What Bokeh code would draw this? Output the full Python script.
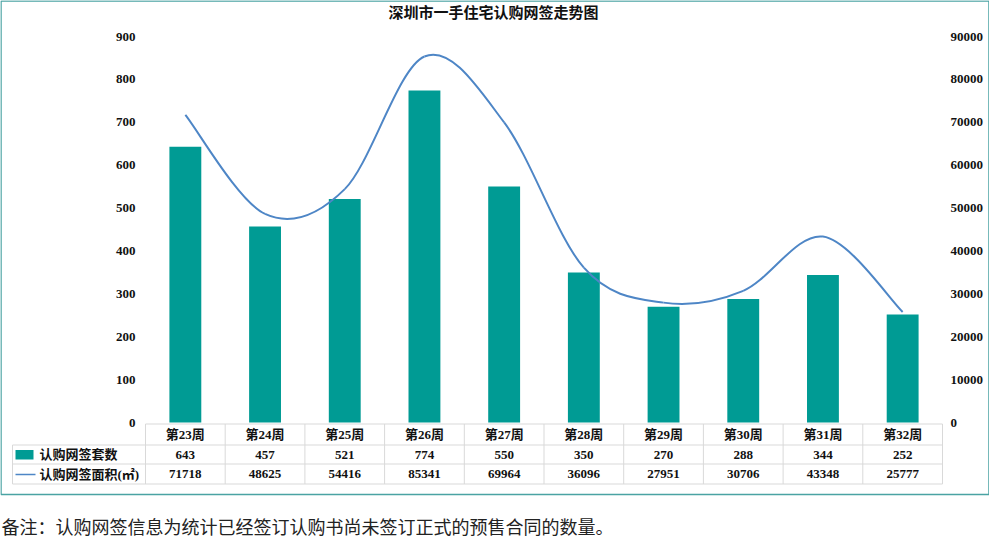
from bokeh.plotting import figure
from bokeh.models import Range1d
from bokeh.core.properties import value
from bokeh.embed import file_html
from bokeh.resources import INLINE

# ---------------- data ----------------
weeks = ["第23周", "第24周", "第25周", "第26周", "第27周", "第28周", "第29周", "第30周", "第31周", "第32周"]
counts = [643, 457, 521, 774, 550, 350, 270, 288, 344, 252]
areas = [71718, 48625, 54416, 85341, 69964, 36096, 27951, 30706, 43348, 25777]
left_ticks = [0, 100, 200, 300, 400, 500, 600, 700, 800, 900]
right_ticks = [0, 10000, 20000, 30000, 40000, 50000, 60000, 70000, 80000, 90000]
title_text = "深圳市一手住宅认购网签走势图"
series_names = ["认购网签套数", "认购网签面积(㎡)"]
note_text = "备注：认购网签信息为统计已经签订认购书尚未签订正式的预售合同的数量。"

# ---------------- layout ----------------
W, H = 989, 543
OX, OY = 8, 8            # page offset of the figure
CAT_LEFT = 153           # page x of first category's left edge
CAT_W = 79.7             # pixels per category
Y0 = 430                 # page y of value 0
K = (430 - 44) / 900.0   # pixels per count unit

x_start = (OX - CAT_LEFT) / CAT_W
x_end = x_start + W / CAT_W
y_end = (Y0 - OY) / K
y_start = (Y0 - (OY + H)) / K

def px(x):
    return (x - CAT_LEFT) / CAT_W

def py(y):
    return (Y0 - y) / K

BAR = "#009B94"
LINE = "#4E86C6"
BORDER = "#4AA3A3"
GRID = "#D9D9D9"
TXT = "#111111"
SERIF = "Liberation Serif, Noto Sans CJK SC"
CJK = "Noto Sans CJK SC"

p = figure(width=W, height=H, output_backend="svg", toolbar_location=None,
           x_range=Range1d(x_start, x_end), y_range=Range1d(y_start, y_end),
           min_border=0, outline_line_color=None, tools="")
p.extra_y_ranges = {"area": Range1d(y_start * 100, y_end * 100)}
p.axis.visible = False
p.grid.visible = False
p.background_fill_color = "white"
p.border_fill_color = "white"

n = len(weeks)
xc = [i + 0.5 for i in range(n)]

# border frame
p.quad(left=[px(8.5)], right=[px(996.5)], top=[py(8.5)], bottom=[py(502)],
       fill_color=None, line_color=BORDER, line_width=1.5)

# title
p.text(x=[px(501)], y=[py(20)], text=[title_text], text_align="center", text_baseline="middle",
       text_font=value(SERIF), text_font_size="15px", text_font_style="bold", text_color=TXT)

# left tick labels
p.text(x=[px(143)] * len(left_ticks), y=left_ticks, text=[str(t) for t in left_ticks],
       text_align="right", text_baseline="middle", text_font=value(SERIF),
       text_font_size="13px", text_font_style="bold", text_color=TXT)

# right tick labels
p.text(x=[px(958)] * len(right_ticks), y=right_ticks, text=[str(t) for t in right_ticks],
       y_range_name="area", text_align="left", text_baseline="middle", text_font=value(SERIF),
       text_font_size="13px", text_font_style="bold", text_color=TXT)

# bars
p.vbar(x=xc, width=0.4, top=counts, bottom=0, fill_color=BAR, line_color=None)

# smooth line (Catmull-Rom -> cubic bezier)
P = list(zip(xc, areas))
x0s, y0s, x1s, y1s, cx0, cy0, cx1, cy1 = [], [], [], [], [], [], [], []
for i in range(n - 1):
    pm = P[i - 1] if i > 0 else P[i]
    p0 = P[i]
    p1 = P[i + 1]
    p2 = P[i + 2] if i + 2 < n else P[i + 1]
    x0s.append(p0[0]); y0s.append(p0[1])
    x1s.append(p1[0]); y1s.append(p1[1])
    cx0.append(p0[0] + (p1[0] - pm[0]) / 6.0); cy0.append(p0[1] + (p1[1] - pm[1]) / 6.0)
    cx1.append(p1[0] - (p2[0] - p0[0]) / 6.0); cy1.append(p1[1] - (p2[1] - p0[1]) / 6.0)
p.bezier(x0=x0s, y0=y0s, x1=x1s, y1=y1s, cx0=cx0, cy0=cy0, cx1=cx1, cy1=cy1,
         y_range_name="area", line_color=LINE, line_width=2)

# data table grid
row_lines = [431.5, 452.5, 471.5, 491.5]
hx0 = [px(CAT_LEFT)] + [px(20)] * 3
hx1 = [px(950)] * 4
p.segment(x0=hx0, y0=[py(y) for y in row_lines], x1=hx1, y1=[py(y) for y in row_lines],
          line_color=GRID, line_width=1)
vx = [px(20)] + [float(i) for i in range(n + 1)]
vy0 = [py(452.5)] + [py(431.5)] * (n + 1)
vy1 = [py(491.5)] * (n + 2)
p.segment(x0=vx, y0=vy0, x1=vx, y1=vy1, line_color=GRID, line_width=1)

# table texts
p.text(x=xc, y=[py(442)] * n, text=weeks, text_align="center", text_baseline="middle",
       text_font=value(SERIF), text_font_size="13px", text_font_style="bold", text_color=TXT)
p.text(x=xc, y=[py(462)] * n, text=[str(v) for v in counts], text_align="center",
       text_baseline="middle", text_font=value(SERIF), text_font_size="13px",
       text_font_style="bold", text_color=TXT)
p.text(x=xc, y=[py(481.5)] * n, text=[str(v) for v in areas], text_align="center",
       text_baseline="middle", text_font=value(SERIF), text_font_size="13px",
       text_font_style="bold", text_color=TXT)

# legend keys in table
p.quad(left=[px(23)], right=[px(41)], top=[py(457.5)], bottom=[py(467)],
       fill_color=BAR, line_color=None)
p.segment(x0=[px(23)], y0=[py(482)], x1=[px(43)], y1=[py(482)], line_color=LINE, line_width=1.5)
p.text(x=[px(47), px(47)], y=[py(462), py(481.5)], text=series_names, text_align="left",
       text_baseline="middle", text_font=value(SERIF), text_font_size="13px",
       text_font_style="bold", text_color=TXT)

# note
p.text(x=[px(9)], y=[py(533)], text=[note_text], text_align="left", text_baseline="middle",
       text_font=value(CJK), text_font_size="18px", text_color="#222222")

open("out.html", "w").write(file_html(p, INLINE))
